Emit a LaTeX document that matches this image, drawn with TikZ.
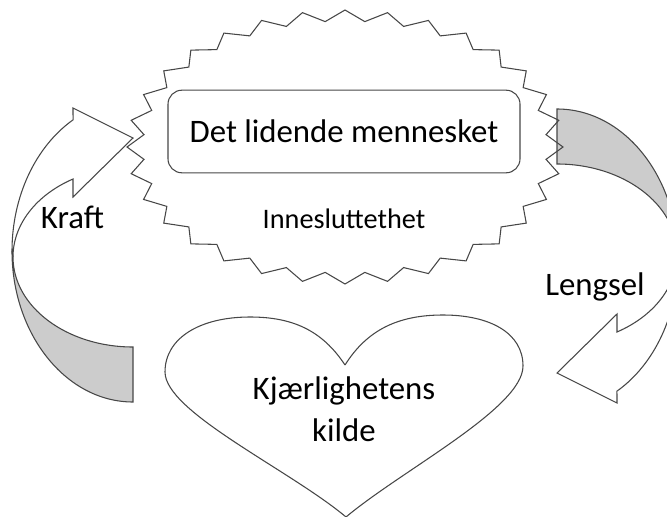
\documentclass[tikz,border=0pt]{standalone}
\usepackage{fontspec}
\setmainfont{Carlito}
\usetikzlibrary{positioning}

\tikzset{
  outline/.style={draw=black!72, line width=0.8pt},
  bigtext/.style={font=\fontsize{24.6}{31.5}\selectfont},
  smalltext/.style={font=\fontsize{21.2}{24}\selectfont},
  % curved block arrow, tail at the bottom, head at the top
  pics/bendarrow/.style={code={
    \filldraw[outline, fill=black!20] (12,251)
      arc[start angle=180, end angle=90, x radius=121, y radius=151]
      -- (133,347)
      arc[start angle=90, end angle=180, x radius=120, y radius=90] -- cycle;
    \filldraw[outline, fill=white] (12,251)
      arc[start angle=180, end angle=240.3, x radius=121, y radius=151]
      -- (73,108) -- (133,138) -- (73,197) -- (73,179)
      arc[start angle=240, end angle=180, x radius=120, y radius=90] -- cycle;
  }}
}

\begin{document}
\begin{tikzpicture}[x=0.75pt, y=-0.75pt]
  \useasboundingbox (0,0) rectangle (667,517);

  % Arrows round the picture
  \pic (kraftarrow) {bendarrow};
  \pic[rotate around={180:(345,255.5)}] (lengselarrow) {bendarrow};

  % Jagged border
  \coordinate (burst) at (345,147);
  \draw[outline, shift={(burst)}] (0:218 and 137)
    \foreach \k in {1,...,32} {
      -- ({\k*11.25-5.625}:202 and 126) -- ({\k*11.25}:218 and 137)
    } -- cycle;

  % The suffering person
  \node[outline, rounded corners=10.5pt, minimum width=264pt, minimum height=62pt, bigtext]
    (self) at (344,131.5) {Det lidende mennesket};
  \node[smalltext, anchor=base] (closed) at (344,228) {Innesluttethet};

  % Heart
  \coordinate (notch) at (345,365);
  \draw[outline] (notch)
    .. controls (322,330) and (292,317) .. (250,317)
    .. controls (200,317) and (165,338) .. (165,372)
    .. controls (165,412) and (290,470) .. (346,517)
    .. controls (402,470) and (523,408) .. (523,366)
    .. controls (523,333) and (490,315) .. (443,315)
    .. controls (398,315) and (367,330) .. (notch);
  \node[bigtext, align=center] (source) at (344,409) {Kjærlighetens\\kilde};

  % Arrow labels
  \node[bigtext, anchor=base] (kraft) at (72.5,228) {Kraft};
  \node[bigtext, anchor=base] (lengsel) at (595,295) {Lengsel};

\end{tikzpicture}
\end{document}
